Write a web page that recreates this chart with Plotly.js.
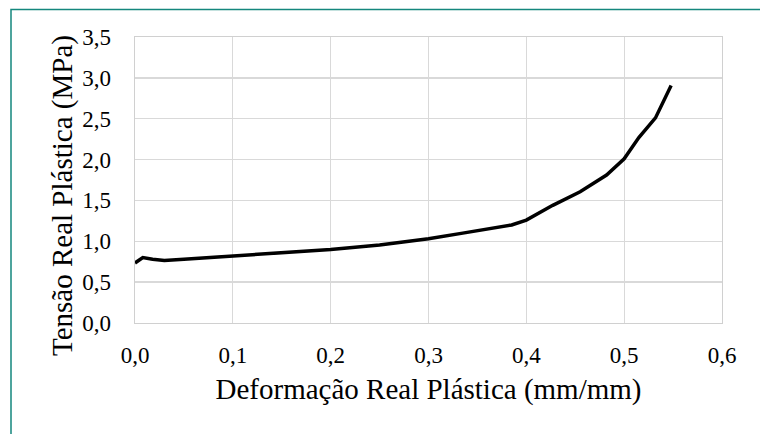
<!DOCTYPE html>
<html>
<head>
<meta charset="utf-8">
<script src="https://cdn.plot.ly/plotly-3.0.1.min.js"></script>
<style>
  html, body { margin: 0; padding: 0; background: #ffffff; }
  #chart { width: 760px; height: 434px; }
</style>
</head>
<body>
<div id="chart"></div>
<script>
// Data
const deformacao = [0, 0.008, 0.018, 0.03, 0.05, 0.07, 0.1, 0.15, 0.2, 0.25, 0.3, 0.335, 0.363, 0.385, 0.40, 0.427, 0.455, 0.482, 0.50, 0.515, 0.532, 0.548];
const tensao     = [0.735, 0.80, 0.78, 0.765, 0.78, 0.797, 0.82, 0.865, 0.90, 0.955, 1.03, 1.10, 1.157, 1.20, 1.26, 1.44, 1.606, 1.81, 2.01, 2.27, 2.51, 2.906];

const xTitle = "Deformação Real Plástica (mm/mm)";
const yTitle = "Tensão Real Plástica (MPa)";

const serif = "Liberation Serif";

const trace = {
  x: deformacao,
  y: tensao,
  type: "scatter",
  mode: "lines",
  line: { color: "#000000", width: 3.5, shape: "linear" },
  hoverinfo: "skip",
  showlegend: false
};

const W = 760, H = 434;
const mL = 135, mR = 38, mT = 37, mB = 111;
const pw = W - mL - mR, ph = H - mT - mB;

const layout = {
  width: W,
  height: H,
  margin: { l: mL, r: mR, t: mT, b: mB, pad: 0 },
  paper_bgcolor: "#ffffff",
  plot_bgcolor: "#ffffff",
  separators: ", ",
  showlegend: false,
  font: { family: serif, color: "#000000" },
  xaxis: {
    range: [0, 0.6],
    dtick: 0.1,
    tick0: 0,
    tickformat: ".1f",
    showgrid: true,
    gridcolor: "#d9d9d9",
    gridwidth: 1.3,
    zeroline: false,
    showline: true,
    linecolor: "#d0d0d0",
    linewidth: 1.3,
    mirror: true,
    ticks: "",
    ticklabelstandoff: 11,
    tickfont: { family: serif, size: 23, color: "#000000" },
    title: { text: xTitle, font: { family: serif, size: 29, color: "#000000" }, standoff: 11 },
    fixedrange: true
  },
  yaxis: {
    range: [0, 3.5],
    dtick: 0.5,
    tick0: 0,
    tickformat: ".1f",
    showgrid: true,
    gridcolor: "#d9d9d9",
    gridwidth: 1.3,
    zeroline: false,
    showline: true,
    linecolor: "#d0d0d0",
    linewidth: 1.3,
    mirror: true,
    ticks: "",
    ticklabelstandoff: 18,
    tickfont: { family: serif, size: 23, color: "#000000" },
    fixedrange: true
  },
  annotations: [
    {
      text: yTitle,
      xref: "paper", yref: "paper",
      x: (62 - mL) / pw, y: (mT + ph - 196) / ph,
      xanchor: "center", yanchor: "middle",
      textangle: -90,
      showarrow: false,
      font: { family: serif, size: 29, color: "#000000" }
    }
  ],
  shapes: [
    {
      type: "rect",
      xref: "paper", yref: "paper",
      x0: (11 - mL) / pw, x1: (W + 20 - mL) / pw,
      y0: -(H + 20 - mT - ph) / ph, y1: (H - 9.5 - mB) / ph,
      line: { color: "#14877d", width: 1.5 },
      fillcolor: "rgba(0,0,0,0)",
      layer: "below"
    }
  ]
};

Plotly.newPlot("chart", [trace], layout, { displayModeBar: false, staticPlot: true });
</script>
</body>
</html>
